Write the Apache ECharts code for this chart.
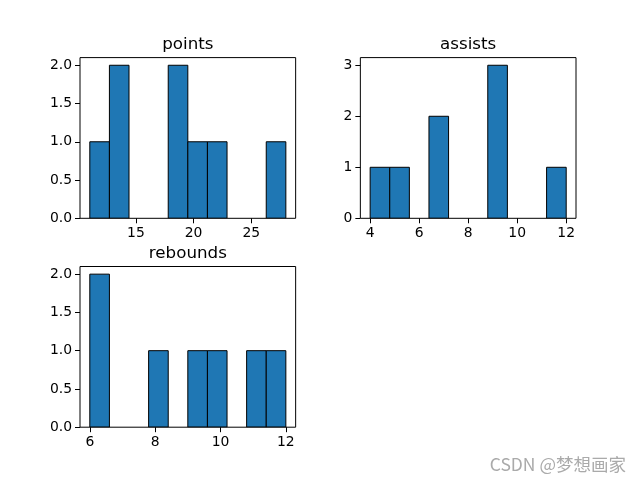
<!DOCTYPE html>
<html>
<head>
<meta charset="utf-8">
<script src="https://cdn.jsdelivr.net/npm/echarts@6/dist/echarts.min.js"></script>
<style>html,body{margin:0;padding:0;background:#fff}#c{width:640px;height:480px}</style>
</head>
<body>
<div id="c"></div>
<script>
// Histogram data (10 bins each)
const titles = ['points', 'assists', 'rebounds'];
const pointsRange = [11, 28];
const pointsCounts = [1, 2, 0, 0, 2, 1, 1, 0, 0, 1];
const assistsRange = [4, 12];
const assistsCounts = [1, 1, 0, 2, 0, 0, 3, 0, 0, 1];
const reboundsRange = [6, 12];
const reboundsCounts = [2, 0, 0, 1, 0, 1, 1, 0, 1, 1];
const pointsXTicks = [15, 20, 25];
const assistsXTicks = [4, 6, 8, 10, 12];
const reboundsXTicks = [6, 8, 10, 12];
const pointsYTicks = [0, 0.5, 1, 1.5, 2];
const assistsYTicks = [0, 1, 2, 3];
const reboundsYTicks = [0, 0.5, 1, 1.5, 2];

const FONT = 'DejaVu Sans';
const W = 215.65, H = 160.7;
const grids = [
  {left: 80, top: 57.6},
  {left: 360.35, top: 57.6},
  {left: 80, top: 266.5}
];

function bins(range, counts) {
  const w = (range[1] - range[0]) / counts.length;
  return counts.map((c, i) => [range[0] + i * w, range[0] + (i + 1) * w, c]);
}

const panels = [
  {range: pointsRange, counts: pointsCounts, xt: pointsXTicks, yt: pointsYTicks, dec: 1},
  {range: assistsRange, counts: assistsCounts, xt: assistsXTicks, yt: assistsYTicks, dec: 0},
  {range: reboundsRange, counts: reboundsCounts, xt: reboundsXTicks, yt: reboundsYTicks, dec: 1}
];

const xAxis = [], yAxis = [], series = [], graphic = [];
panels.forEach((p, i) => {
  const R = p.range[1] - p.range[0];
  const ymax = Math.max(...p.counts) * 1.05;
  xAxis.push({
    type: 'value', gridIndex: i, min: p.range[0] - 0.05 * R, max: p.range[1] + 0.05 * R,
    splitLine: {show: false}, axisLine: {show: false},
    axisTick: {show: true, inside: false, length: 5, customValues: p.xt, lineStyle: {color: '#000', width: 1}},
    axisLabel: {customValues: p.xt, color: '#000', fontFamily: FONT, fontSize: 13.9, margin: 8, formatter: v => String(v)}
  });
  yAxis.push({
    type: 'value', gridIndex: i, min: 0, max: ymax,
    splitLine: {show: false}, axisLine: {show: false},
    axisTick: {show: true, inside: false, length: 5, customValues: p.yt, lineStyle: {color: '#000', width: 1}},
    axisLabel: {customValues: p.yt, color: '#000', fontFamily: FONT, fontSize: 13.9, margin: 8, formatter: v => v.toFixed(p.dec)}
  });
  series.push({
    type: 'custom', xAxisIndex: i, yAxisIndex: i, clip: true,
    encode: {x: [0, 1], y: 2},
    data: bins(p.range, p.counts),
    renderItem: function (params, api) {
      const c = api.value(2);
      if (!c) return null;
      const a = api.coord([api.value(0), c]);
      const b = api.coord([api.value(1), 0]);
      return {type: 'rect', shape: {x: a[0], y: a[1], width: b[0] - a[0], height: b[1] - a[1]},
        style: {fill: '#1f77b4', stroke: '#000', lineWidth: 1}};
    }
  });
  graphic.push({
    type: 'text', x: grids[i].left + W / 2, y: grids[i].top - 4.5,
    style: {text: titles[i], fontFamily: FONT, fontSize: 16.7, fill: '#000', align: 'center', verticalAlign: 'bottom'}
  });
});
graphic.push({
  type: 'text', x: 626, y: 473,
  style: {text: 'CSDN @梦想画家', fontFamily: '"Noto Sans CJK SC", "Noto Sans"', fontSize: 17.5, fill: '#aaaaaa', align: 'right', verticalAlign: 'bottom'}
});

const chart = echarts.init(document.getElementById('c'), null, {renderer: 'canvas'});
chart.setOption({
  animation: false,
  backgroundColor: '#fff',
  grid: grids.map(g => ({left: g.left, top: g.top, width: W, height: H, show: true, borderColor: '#000', borderWidth: 1, backgroundColor: 'transparent', z: 5})),
  xAxis, yAxis, series, graphic
});
</script>
</body>
</html>
